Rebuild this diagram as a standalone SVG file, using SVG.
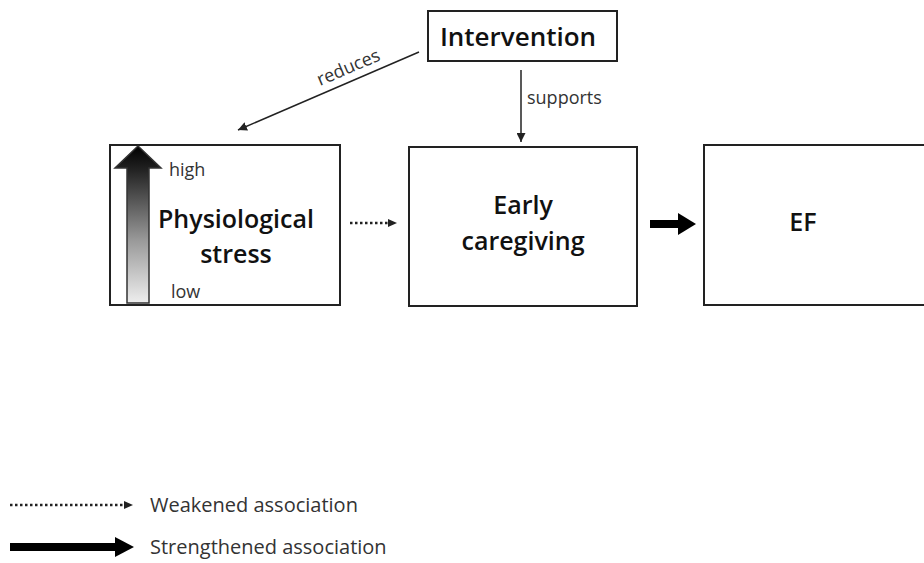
<svg xmlns="http://www.w3.org/2000/svg" width="924" height="563" viewBox="0 0 924 563">
<defs>
<style>
.box{fill:#fff;stroke:#222;stroke-width:2}
.t{font-family:"Open Sans","Liberation Sans",sans-serif;fill:#111}
.b{font-weight:600;font-size:25px;text-anchor:middle}
.s{font-size:18px;fill:#333}
.l{font-size:20px;fill:#333}
.ln{stroke:#222;stroke-width:1.5;fill:none}
.dot{stroke:#222;stroke-width:2.5;stroke-dasharray:2.5 2.5;fill:none}
.thick{stroke:#000;stroke-width:8;fill:none}
</style>
<marker id="ah" viewBox="0 0 10 10" refX="10" refY="5" markerWidth="9" markerHeight="9" markerUnits="userSpaceOnUse" orient="auto"><path d="M0,0 L10,5 L0,10 z" fill="#222"/></marker>
<linearGradient id="grad" x1="0" y1="0" x2="0" y2="1">
<stop offset="0" stop-color="#000"/>
<stop offset="0.15" stop-color="#222"/>
<stop offset="0.6" stop-color="#999"/>
<stop offset="1" stop-color="#eee"/>
</linearGradient>
</defs>
<g id="intervention">
<rect class="box" x="428" y="11" width="189" height="50"/>
<text class="t b" x="518" y="46" style="font-size:26px">Intervention</text>
</g>
<g id="stress">
<rect class="box" x="110" y="145" width="230" height="160"/>
<path d="M138,146 L161,168 L149,168 L149,303 L127,303 L127,168 L115,168 Z" fill="url(#grad)" stroke="#333" stroke-width="1.5"/>
<text class="t s" x="169" y="176">high</text>
<text class="t s" x="171" y="298">low</text>
<text class="t b" x="236" y="228">Physiological</text>
<text class="t b" x="236" y="263">stress</text>
</g>
<g id="caregiving">
<rect class="box" x="409" y="147" width="228" height="159"/>
<text class="t b" x="523" y="214">Early</text>
<text class="t b" x="523" y="250">caregiving</text>
</g>
<g id="ef">
<rect class="box" x="704" y="145" width="230" height="160"/>
<text class="t b" x="803" y="231">EF</text>
</g>
<g id="connectors">
<line class="ln" x1="419" y1="52" x2="238" y2="130" marker-end="url(#ah)"/>
<text class="t s" x="0" y="0" transform="translate(320,86) rotate(-23)">reduces</text>
<line class="ln" x1="521" y1="70" x2="521" y2="142" marker-end="url(#ah)"/>
<text class="t s" x="527" y="104">supports</text>
<line class="dot" x1="350" y1="223" x2="390" y2="223"/>
<path d="M388,219 L397,223 L388,227 Z" fill="#222"/>
<line class="thick" x1="650" y1="224" x2="680" y2="224"/>
<path d="M678,213 L696,224 L678,235 Z" fill="#000"/>
</g>
<g id="legend">
<line class="dot" x1="10" y1="505" x2="126" y2="505"/>
<path d="M124,501 L133,505 L124,509 Z" fill="#222"/>
<text class="t l" x="150" y="512">Weakened association</text>
<line class="thick" x1="10" y1="547" x2="117" y2="547"/>
<path d="M115,537 L134,547 L115,557 Z" fill="#000"/>
<text class="t l" x="150" y="554">Strengthened association</text>
</g>
</svg>
